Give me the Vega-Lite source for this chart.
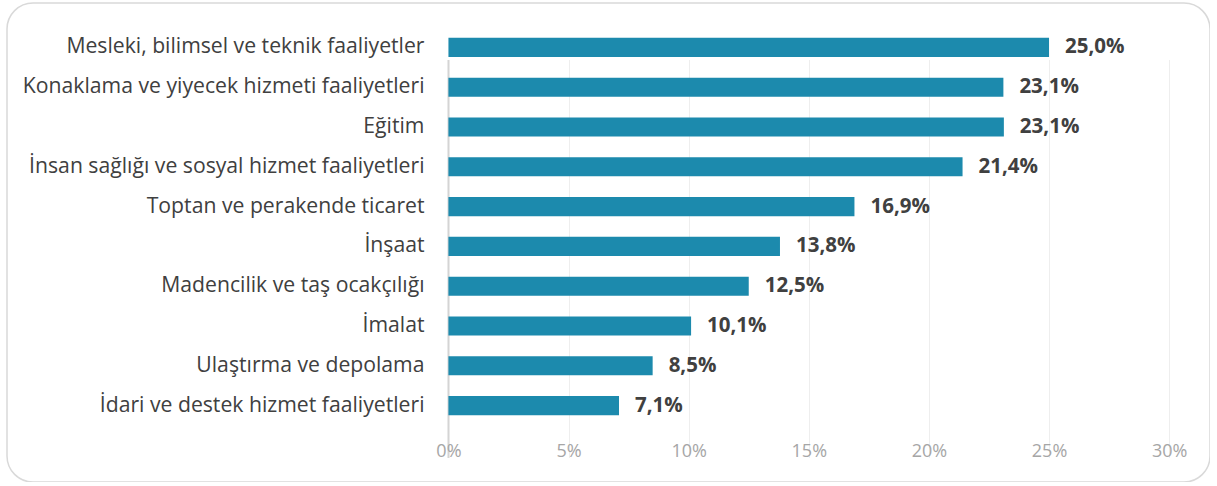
{
  "$schema": "https://vega.github.io/schema/vega-lite/v6.json",
  "autosize": "none",
  "width": 1203,
  "height": 479,
  "padding": {"left": 7, "top": 3, "right": 0, "bottom": 0},
  "background": "white",
  "config": {
    "locale": {"number": {"decimal": ",", "thousands": ".", "grouping": [3], "currency": ["", " TL"]}},
    "view": {"stroke": "#d9d9d9", "strokeWidth": 1.5, "cornerRadius": 26},
    "font": "Open Sans"
  },
  "data": {
    "values": [
      {"sektor": "Mesleki, bilimsel ve teknik faaliyetler", "oran": 0.250},
      {"sektor": "Konaklama ve yiyecek hizmeti faaliyetleri", "oran": 0.231},
      {"sektor": "Eğitim", "oran": 0.2312},
      {"sektor": "İnsan sağlığı ve sosyal hizmet faaliyetleri", "oran": 0.214},
      {"sektor": "Toptan ve perakende ticaret", "oran": 0.169},
      {"sektor": "İnşaat", "oran": 0.138},
      {"sektor": "Madencilik ve taş ocakçılığı", "oran": 0.125},
      {"sektor": "İmalat", "oran": 0.101},
      {"sektor": "Ulaştırma ve depolama", "oran": 0.085},
      {"sektor": "İdari ve destek hizmet faaliyetleri", "oran": 0.071}
    ]
  },
  "encoding": {
    "y": {
      "field": "sektor",
      "type": "nominal",
      "sort": null,
      "scale": {"range": [24.5, 422.5], "paddingInner": 0.52, "paddingOuter": 0.26},
      "axis": {
        "title": null,
        "orient": "left",
        "offset": -441,
        "domain": false,
        "ticks": false,
        "grid": false,
        "labelPadding": 24,
        "labelLimit": 500,
        "labelFontSize": 21.2,
        "labelColor": "#404040",
        "labelFont": "Open Sans"
      }
    },
    "x": {
      "field": "oran",
      "type": "quantitative",
      "scale": {"domain": [-0.18375, 0.317], "nice": false, "zero": true},
      "axis": {
        "title": null,
        "orient": "bottom",
        "offset": -56,
        "values": [0, 0.05, 0.1, 0.15, 0.2, 0.25, 0.3],
        "format": ".0%",
        "domain": false,
        "ticks": false,
        "grid": true,
        "gridColor": {"condition": {"test": "datum.value === 0", "value": "#d4d4d4"}, "value": "#eeeeee"},
        "gridWidth": {"condition": {"test": "datum.value === 0", "value": 2}, "value": 1},
        "labelPadding": 16,
        "labelFontSize": 18,
        "labelColor": "#a6a6a6",
        "labelFont": "Open Sans"
      }
    }
  },
  "layer": [
    {
      "mark": {"type": "bar", "color": "#1c8aad"}
    },
    {
      "mark": {"type": "text", "align": "left", "baseline": "middle", "dx": 16, "fontSize": 20.5, "fontWeight": "bold", "color": "#404040", "font": "Open Sans"},
      "encoding": {
        "text": {"field": "oran", "type": "quantitative", "format": ".1%"}
      }
    }
  ]
}
